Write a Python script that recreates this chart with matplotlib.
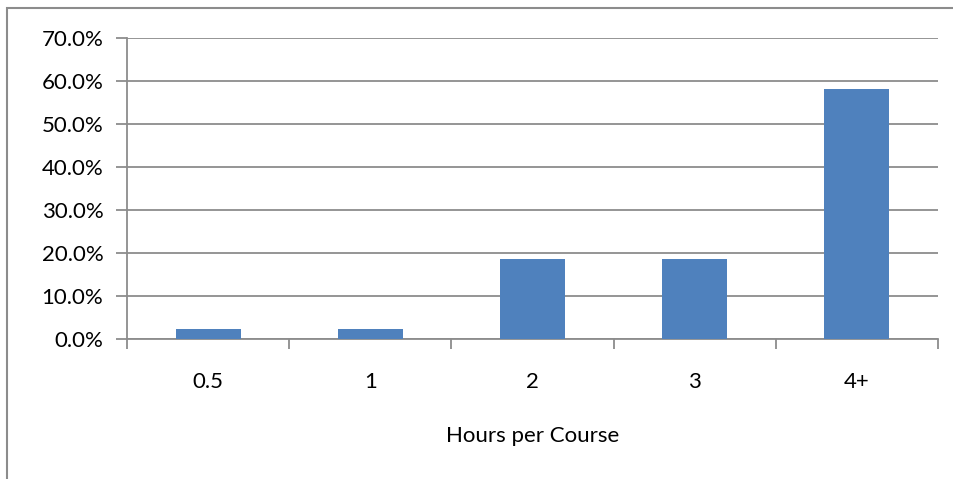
import numpy as np
import matplotlib.pyplot as plt
from matplotlib.patches import Rectangle

# Hours per course survey share
categories = ["0.5", "1", "2", "3", "4+"]
shares = [2.3, 2.3, 18.6, 18.6, 58.1]
yticks = [0, 10, 20, 30, 40, 50, 60, 70]

plt.rcParams['font.family'] = ['Lato', 'DejaVu Sans']

fig = plt.figure(figsize=(9.54, 4.79), dpi=100)
ax = fig.add_axes([127/954, 1-339/479, (938-127)/954, (339-38)/479])

grey = "#8c8c8c"
x = np.arange(len(categories))
ax.bar(x, shares, width=0.4, color="#4f81bd", zorder=3)

ax.set_xlim(-0.5, len(categories)-0.5)
ax.set_ylim(0, 70)
ax.set_yticks(yticks)
ax.set_yticklabels([f"{v:.1f}%" for v in yticks], fontsize=16)
ax.yaxis.grid(True, color=grey, linewidth=1.3, zorder=0)

ax.set_xticks(x)
ax.set_xticklabels(categories, fontsize=16)
ax.set_xticks(np.arange(-0.5, len(categories), 1.0), minor=True)
ax.tick_params(axis='x', which='major', length=0, pad=24)
ax.tick_params(axis='x', which='minor', length=7, color=grey, width=1.3)
ax.tick_params(axis='y', length=8, color=grey, width=1.3, pad=9)
ax.set_xlabel("Hours per Course", fontsize=16, labelpad=24)

for side in ["top", "right"]:
    ax.spines[side].set_visible(False)
for side in ["left", "bottom"]:
    ax.spines[side].set_color(grey)
    ax.spines[side].set_linewidth(1.3)

# chart border
fig.patches.append(Rectangle((7/954, -0.1), 1.2, 1.1 - 8/479, transform=fig.transFigure,
                             fill=False, edgecolor=grey, linewidth=1.5))

fig.savefig("out.png", dpi=100)
